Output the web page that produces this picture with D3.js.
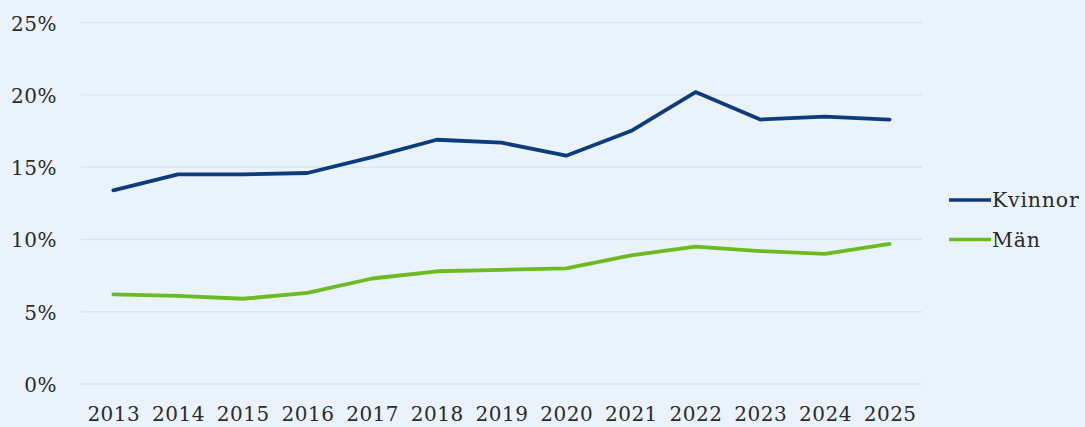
<!DOCTYPE html>
<html>
<head>
<meta charset="utf-8">
<script src="https://cdn.jsdelivr.net/npm/d3@7"></script>
<style>
  html, body { margin: 0; padding: 0; background: #eaf2fc; }
  svg { display: block; }
  text { font-family: "DejaVu Serif", "Liberation Serif", serif; fill: #2b2b2b; }
</style>
</head>
<body>
<svg id="chart" width="1085" height="427"></svg>
<script>
// Andel (%) per år
const years = ["2013","2014","2015","2016","2017","2018","2019","2020","2021","2022","2023","2024","2025"];
const kvinnor = [13.4, 14.5, 14.5, 14.6, 15.7, 16.9, 16.7, 15.8, 17.5, 20.2, 18.3, 18.5, 18.3];
const man = [6.2, 6.1, 5.9, 6.3, 7.3, 7.8, 7.9, 8.0, 8.9, 9.5, 9.2, 9.0, 9.7];
const yTicks = [0, 5, 10, 15, 20, 25];
const seriesNames = ["Kvinnor", "Män"];
const seriesColors = ["#0c3c7c", "#6cbb22"];

(function () {
  const svg = d3.select("#chart");
  const W = 1085, H = 427;
  svg.append("rect").attr("width", W).attr("height", H).attr("fill", "#eaf2fc");

  const plotLeft = 81, plotRight = 922, plotTop = 22.7, plotBottom = 384;

  const x = d3.scalePoint().domain(years).range([plotLeft, plotRight]).padding(0.5);
  const y = d3.scaleLinear().domain([0, 25]).range([plotBottom, plotTop]);

  const styleLabels = g => g.selectAll("text")
    .attr("font-size", 20)
    .attr("fill", "#2b2b2b")
    .attr("letter-spacing", 0.5)
    .style("font-family", '"DejaVu Serif", serif');

  // gridlines
  svg.append("g")
    .selectAll("line")
    .data(yTicks)
    .join("line")
    .attr("x1", plotLeft).attr("x2", plotRight)
    .attr("y1", d => y(d)).attr("y2", d => y(d))
    .attr("stroke", "#dbe2ea").attr("stroke-width", 1.3);

  // y axis labels
  const yAxis = d3.axisLeft(y).tickValues(yTicks).tickFormat(d => d + "%").tickSize(0).tickPadding(0);
  svg.append("g")
    .attr("transform", "translate(57,1)")
    .call(yAxis)
    .call(g => g.select(".domain").remove())
    .call(styleLabels);

  // x axis labels
  const xAxis = d3.axisBottom(x).tickSize(0).tickPadding(0);
  svg.append("g")
    .attr("transform", "translate(0,407)")
    .call(xAxis)
    .call(g => g.select(".domain").remove())
    .call(styleLabels);

  // series lines
  const line = d3.line().x((d, i) => x(years[i])).y(d => y(d));
  [kvinnor, man].forEach((vals, i) => {
    svg.append("path")
      .datum(vals)
      .attr("d", line)
      .attr("fill", "none")
      .attr("stroke", seriesColors[i])
      .attr("stroke-width", 3.8)
      .attr("stroke-linejoin", "round")
      .attr("stroke-linecap", "round");
  });

  // legend
  const legendY = [200, 239.5];
  const lg = svg.append("g");
  seriesNames.forEach((name, i) => {
    lg.append("line")
      .attr("x1", 949).attr("x2", 991)
      .attr("y1", legendY[i]).attr("y2", legendY[i])
      .attr("stroke", seriesColors[i]).attr("stroke-width", 3.4);
    lg.append("text")
      .attr("x", 992).attr("y", legendY[i])
      .attr("dy", "0.35em")
      .attr("font-size", 20.5)
      .attr("letter-spacing", 0.8)
      .text(name);
  });
})();
</script>
</body>
</html>
